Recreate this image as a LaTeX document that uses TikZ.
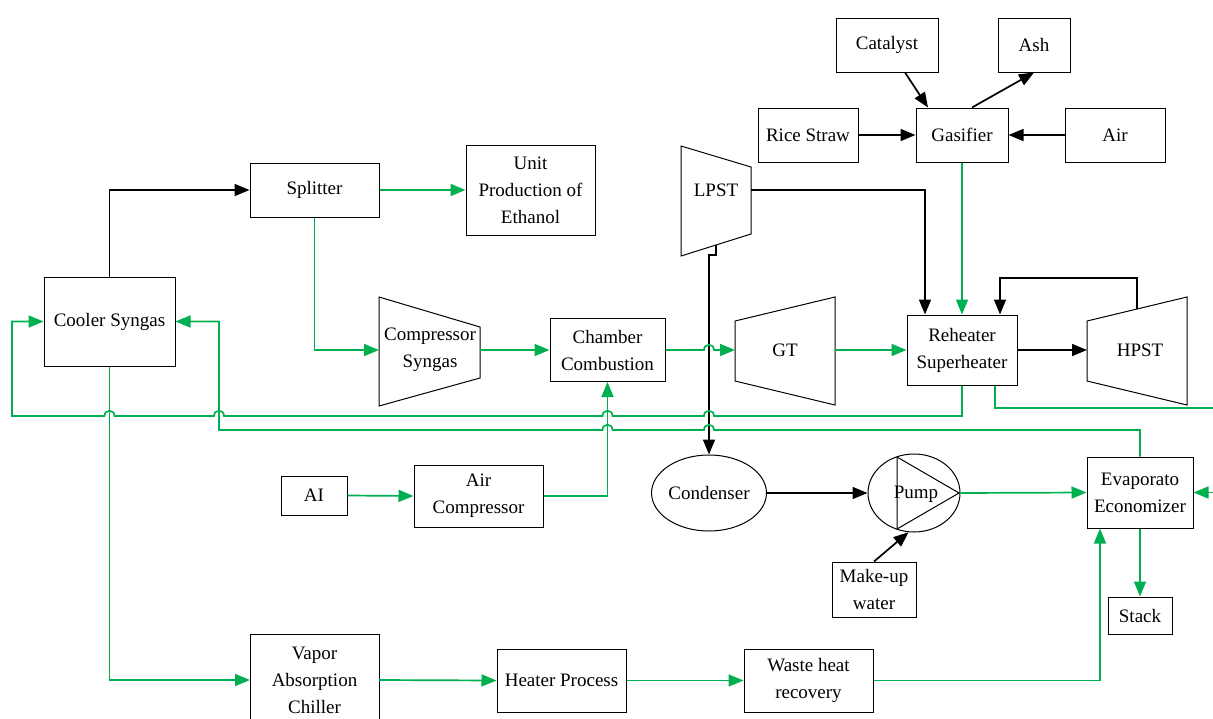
\documentclass[tikz,border=0pt]{standalone}
\usepackage{fontspec}
\setmainfont{Liberation Serif}
\usetikzlibrary{arrows.meta,calc,shapes.geometric}
\definecolor{flowgreen}{RGB}{0,176,80}
\tikzset{
  every node/.style={font=\fontsize{19}{27}\selectfont},
  box/.style={draw=black, line width=1pt, fill=white, align=center, inner sep=0pt, rectangle},
  oval/.style={draw=black, line width=1pt, fill=white, align=center, inner sep=0pt, ellipse},
  txt/.style={align=center, inner sep=0pt},
  shp/.style={draw=black, line width=1pt},
  blk/.style={draw=black, line width=1.7pt, -{Triangle[length=15pt,width=12pt]}},
  grn/.style={draw=flowgreen, line width=1.7pt, -{Triangle[length=15pt,width=12pt]}},
  grnl/.style={draw=flowgreen, line width=1.7pt},
  hopL/.style 2 args={insert path={-- (#1+5,#2) .. controls (#1+5,#2-7) and (#1-5,#2-7) .. (#1-5,#2)}},
  hopR/.style 2 args={insert path={-- (#1-5,#2) .. controls (#1-5,#2-7) and (#1+5,#2-7) .. (#1+5,#2)}},
}
\begin{document}
\begin{tikzpicture}[x=1pt,y=-1pt]
\useasboundingbox (0,0) rectangle (1213,718);

% ---- rectangular boxes
\node[box, minimum width=102, minimum height=54] (catalyst) at (887,45) {Catalyst};
\node[box, minimum width=72,  minimum height=54] (ash) at (1034,45) {Ash};
\node[box, minimum width=100, minimum height=54] (rice) at (808,135) {Rice Straw};
\node[box, minimum width=92,  minimum height=54] (gasifier) at (962,135) {Gasifier};
\node[box, minimum width=100, minimum height=54] (air) at (1115,135) {Air};
\node[box, minimum width=129, minimum height=90] (unit) at (530.5,190) {Unit\\Production of\\Ethanol};
\node[box, minimum width=129, minimum height=54] (splitter) at (314.5,190) {Splitter};
\node[box, minimum width=131, minimum height=89] (cooler) at (109.5,321.5) {Cooler Syngas};
\node[box, minimum width=115, minimum height=63] (chamber) at (607.5,350) {Chamber\\Combustion};
\node[box, minimum width=110, minimum height=70] (reheater) at (962,350) {Reheater\\Superheater};
\node[box, minimum width=66,  minimum height=39] (ai) at (314,495.5) {AI};
\node[box, minimum width=129, minimum height=62] (aircomp) at (478.5,496) {Air\\Compressor};
\node[oval, minimum width=114, minimum height=76] (condenser) at (709,493) {Condenser};
\node[oval, minimum width=92,  minimum height=78] (pump) at (914,493) {};
\draw[shp] (897,457) -- (959,493) -- (897,529) -- cycle;
\node[txt] (pumplbl) at (916,494) {Pump};
\node[box, minimum width=84,  minimum height=55] (makeup) at (874,589.5) {Make-up\\water};
\node[box, minimum width=106, minimum height=71] (evap) at (1140,492.5) {Evaporato\\Economizer};
\node[box, minimum width=64,  minimum height=37] (stack) at (1140,615.5) {Stack};
\node[box, minimum width=129, minimum height=63] (heater) at (561.5,680.5) {Heater Process};
\node[box, minimum width=129, minimum height=63] (waste) at (808.5,680.5) {Waste heat\\recovery};
\draw[shp] (250,634) rectangle (379,740);
\node[txt] (chiller) at (314.5,680) {Vapor\\Absorption\\Chiller};
\coordinate (chW) at (250,680);
\coordinate (chE) at (379,680);

% ---- turbines / compressors (trapezoids)
\draw[shp] (379,297) -- (480,327) -- (480,378) -- (379,406) -- cycle;
\node[txt] (csyn) at (430,350) {Compressor\\Syngas};
\coordinate (csW) at (379,350);
\coordinate (csE) at (480,350);

\draw[shp] (735,321) -- (835,297) -- (835,405) -- (735,381) -- cycle;
\node[txt] (gt) at (785,350) {GT};
\coordinate (gtW) at (735,350);
\coordinate (gtE) at (835,350);

\draw[shp] (1087,321) -- (1187,297) -- (1187,405) -- (1087,381) -- cycle;
\node[txt] (hpst) at (1140,350) {HPST};
\coordinate (hpW) at (1087,350);
\coordinate (hpT) at (1137,309);

\draw[shp] (681,146) -- (751,167) -- (751,234) -- (681,256) -- cycle;
\node[txt] (lpst) at (716,190) {LPST};
\coordinate (lpE) at (751,190);
\coordinate (lpB) at (716,245);

\coordinate (rIn) at (1213,492.5);
\coordinate (rOut) at (1213,408);

% ---- gasifier inputs / outputs
\draw[blk] (rice.east) -- (gasifier.west);
\draw[blk] (air.west) -- (gasifier.east);
\draw[blk] ($(catalyst.south)+(18,0)$) -- ($(gasifier.north)+(-34,0)$);
\draw[blk] ($(gasifier.north)+(10,0)$) -- (ash.south);
\draw[grn] (gasifier.south) -- (reheater.north);

% ---- steam side
\draw[blk] (lpE) -| ($(reheater.north)+(-37,0)$);
\draw[blk] (hpT) -- (1137,278) -- (1000,278) -- ($(reheater.north)+(38,0)$);
\draw[blk] (reheater.east) -- (hpW);
\draw[blk] (lpB) -- (716,255) -- (709,255) -- (condenser.north);
\draw[blk] (condenser.east) -- (pump.west);
\draw[blk] (makeup.north) -- (pump.262);
\draw[grn] (pump.east) -- (evap.west);
\draw[grn] (rIn) -- (evap.east);
\draw[grn] (evap.south) -- (stack.north);

% ---- syngas / gas turbine side
\draw[blk] (cooler.north) |- (splitter.west);
\draw[grn] (splitter.east) -- (unit.west);
\draw[grn] (splitter.south) |- (csW);
\draw[grn] (csE) -- (chamber.west);
\draw[grn] (chamber.east) [hopR={709}{350}] -- (gtW);
\draw[grn] (gtE) -- (reheater.west);
\draw[grn] (ai.east) -- (aircomp.west);
\draw[grn] (aircomp.east) -| (chamber.south);

% ---- return loops
\draw[grn] (reheater.south) -- (962,416) [hopL={709}{416}] [hopL={607.5}{416}] [hopL={219}{416}] [hopL={109.5}{416}] -- (12,416) -- (12,321.5) -- (cooler.west);
\draw[grn] (evap.north) -- (1140,430) [hopL={709}{430}] [hopL={607.5}{430}] -- (219,430) -- (219,321.5) -- (cooler.east);
\draw[grnl] ($(reheater.south)+(33,0)$) |- (rOut);

% ---- bottom chain
\draw[grn] (cooler.south) |- (chW);
\draw[grn] (chE) -- (heater.west);
\draw[grn] (heater.east) -- (waste.west);
\draw[grn] (waste.east) -| ($(evap.south)+(-40,0)$);
\end{tikzpicture}
\end{document}
